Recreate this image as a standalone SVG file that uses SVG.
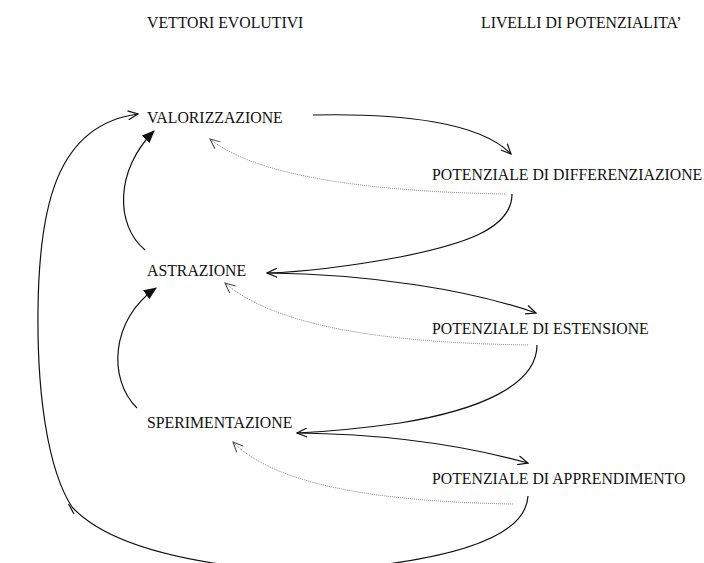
<svg xmlns="http://www.w3.org/2000/svg" width="704" height="563" viewBox="0 0 704 563">
<defs>
<style>
text{font-family:"Liberation Serif","Times New Roman",serif;font-size:15.8px;fill:#111}
.c{fill:none;stroke:#111;stroke-width:1.2}
.d{fill:none;stroke:#8a8a8a;stroke-width:1;stroke-dasharray:1 1}
</style>
<marker id="open" viewBox="0 0 12 10" refX="11" refY="5" markerWidth="12" markerHeight="10" markerUnits="userSpaceOnUse" orient="auto">
<path d="M1,0.5 L11,5 L1,9.5" fill="none" stroke="#111" stroke-width="1.2"/>
</marker>
<marker id="openg" viewBox="0 0 12 10" refX="11" refY="5" markerWidth="12" markerHeight="10" markerUnits="userSpaceOnUse" orient="auto">
<path d="M1,0.5 L11,5 L1,9.5" fill="none" stroke="#444" stroke-width="1"/>
</marker>
<marker id="fill" viewBox="0 0 12 10" refX="11" refY="5" markerWidth="13" markerHeight="11" markerUnits="userSpaceOnUse" orient="auto">
<path d="M0,0 L12,5 L0,10 Z" fill="#111"/>
</marker>
</defs>
<rect width="704" height="563" fill="#fff"/>
<g id="headers">
<text x="147" y="28">VETTORI EVOLUTIVI</text>
<text x="481" y="28">LIVELLI DI POTENZIALITA’</text>
</g>
<g id="valorizzazione"><text x="147" y="123">VALORIZZAZIONE</text></g>
<g id="astrazione"><text x="147" y="276">ASTRAZIONE</text></g>
<g id="sperimentazione"><text x="147" y="428">SPERIMENTAZIONE</text></g>
<g id="pot-differenziazione"><text x="432" y="179.5">POTENZIALE DI DIFFERENZIAZIONE</text></g>
<g id="pot-estensione"><text x="432" y="334">POTENZIALE DI ESTENSIONE</text></g>
<g id="pot-apprendimento"><text x="432" y="484">POTENZIALE DI APPRENDIMENTO</text></g>
<g id="connectors">
<path class="c" d="M313,115 C400,113 480,122 511,154" marker-end="url(#open)"/>
<path class="d" d="M505,194 C390,192 260,180 210,139" marker-end="url(#openg)"/>
<path class="c" d="M512,194 C512,230 460,245 400,257 C340,268 300,272 267,273" marker-end="url(#open)"/>
<path class="c" d="M267,273 C370,274 470,290 536,313" marker-end="url(#open)"/>
<path class="d" d="M528,345 C400,343 280,330 225,283" marker-end="url(#openg)"/>
<path class="c" d="M537,345 C537,385 480,410 400,423 C350,430 320,432 297,433" marker-end="url(#open)"/>
<path class="c" d="M297,433 C390,434 470,447 528,463" marker-end="url(#open)"/>
<path class="d" d="M513,504 C400,502 280,490 233,442" marker-end="url(#openg)"/>
<path class="c" d="M145,250 C115,225 115,170 154,131" marker-end="url(#fill)"/>
<path class="c" d="M137,408 C108,380 110,320 156,288" marker-end="url(#fill)"/>
<path class="c" d="M528,496 C526,535 460,555 380,565 C330,572 260,570 213,563 C150,553 98,535 72,507 C48,470 37,395 38,310 C39,210 55,125 138,114" marker-end="url(#open)"/>
<path class="c" d="M68.5,504 L74,514"/>
</g>
</svg>
